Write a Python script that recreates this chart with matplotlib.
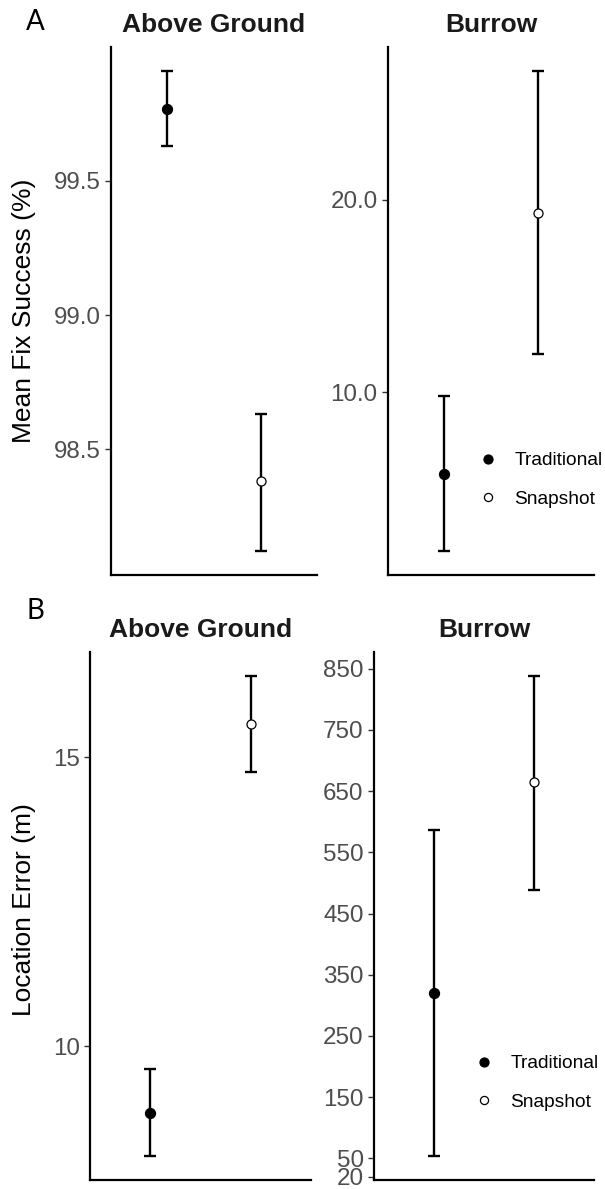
import matplotlib
matplotlib.use("Agg")
import matplotlib.pyplot as plt
from matplotlib.ticker import FormatStrFormatter

# --- data ---
groups = ["Traditional", "Snapshot"]

fix_above_mean = [99.77, 98.38]
fix_above_lo = [99.63, 98.12]
fix_above_hi = [99.91, 98.63]

fix_burrow_mean = [5.75, 19.33]
fix_burrow_lo = [1.76, 12.0]
fix_burrow_hi = [9.79, 26.7]

err_above_mean = [8.85, 15.58]
err_above_lo = [8.10, 14.75]
err_above_hi = [9.61, 16.41]

err_burrow_mean = [320, 665]
err_burrow_lo = [54, 489]
err_burrow_hi = [586, 838]

ticks_fix_above = [98.5, 99.0, 99.5]
ticks_fix_burrow = [10.0, 20.0]
ticks_err_above = [10, 15]
ticks_err_burrow = [20, 50, 150, 250, 350, 450, 550, 650, 750, 850]

W, H = 605, 1189
fig = plt.figure(figsize=(W / 100, H / 100), dpi=100)
plt.rcParams["font.family"] = ["Liberation Sans", "DejaVu Sans"]


def px_axes(x0, y0, x1, y1):
    # pixel box (top-left origin) -> figure fraction axes
    return fig.add_axes([x0 / W, 1 - y1 / H, (x1 - x0) / W, (y1 - y0) / H])


def panel(ax, means, lo, hi, ticks, fmt, title, title_y):
    xs = [1, 2]
    fills = ["black", "white"]
    for x, m, l, h, fc, g in zip(xs, means, lo, hi, fills, groups):
        ax.errorbar([x], [m], yerr=[[m - l], [h - m]], fmt="none", ecolor="black",
                    elinewidth=1.7, capsize=4, capthick=1.7, zorder=2)
        ax.plot([x], [m], "o", ms=7.2 if fc == "black" else 6.5, mfc=fc, mec="black",
                mew=0.9, zorder=3, label=g, linestyle="none")
    rng = max(hi) - min(lo)
    ax.set_ylim(min(lo) - 0.05 * rng, max(hi) + 0.05 * rng)
    ax.set_xlim(0.4, 2.6)
    ax.set_yticks(ticks)
    ax.yaxis.set_major_formatter(FormatStrFormatter(fmt))
    ax.set_xticks([])
    for s in ["top", "right"]:
        ax.spines[s].set_visible(False)
    for s in ["left", "bottom"]:
        ax.spines[s].set_linewidth(1.6)
        ax.spines[s].set_color("black")
    ax.tick_params(axis="y", labelsize=17.4, labelcolor="#4D4D4D", color="#333333",
                   length=4, width=1.0, pad=3.5)
    bb = ax.get_position()
    fig.text((bb.x0 + bb.x1) / 2, 1 - title_y / H, title, ha="center", va="center",
             fontsize=19, fontweight="bold", color="#1A1A1A")


axA1 = px_axes(111, 47, 317, 575)
axA2 = px_axes(388, 47, 594, 575)
axB1 = px_axes(90, 652, 311, 1180)
axB2 = px_axes(374, 652, 594, 1180)

panel(axA1, fix_above_mean, fix_above_lo, fix_above_hi, ticks_fix_above, "%.1f", "Above Ground", 25)
panel(axA2, fix_burrow_mean, fix_burrow_lo, fix_burrow_hi, ticks_fix_burrow, "%.1f", "Burrow", 25)
panel(axB1, err_above_mean, err_above_lo, err_above_hi, ticks_err_above, "%d", "Above Ground", 630)
panel(axB2, err_burrow_mean, err_burrow_lo, err_burrow_hi, ticks_err_burrow, "%d", "Burrow", 630)

# y labels
fig.text(24 / W, 1 - 311 / H, "Mean Fix Success (%)", rotation=90, ha="center", va="center",
         fontsize=19, color="black")
fig.text(24 / W, 1 - 910 / H, "Location Error (m)", rotation=90, ha="center", va="center",
         fontsize=19, color="black")

# panel letters
fig.text(35 / W, 1 - 22 / H, "A", ha="center", va="center", fontsize=20, family="Lato")
fig.text(35 / W, 1 - 611 / H, "B", ha="center", va="center", fontsize=20, family="Lato")

# legends
for ax, lx, ly in [(axA2, 478, 480), (axB2, 474, 1083)]:
    h, l = ax.get_legend_handles_labels()
    ax.legend(h, l, loc="center left", bbox_to_anchor=(lx / W, 1 - ly / H),
              bbox_transform=fig.transFigure, frameon=False, fontsize=13.8,
              handlelength=1.0, handletextpad=0.9, labelspacing=1.1,
              borderpad=0, borderaxespad=0, markerscale=0.9)

fig.savefig("out.png", dpi=100)
